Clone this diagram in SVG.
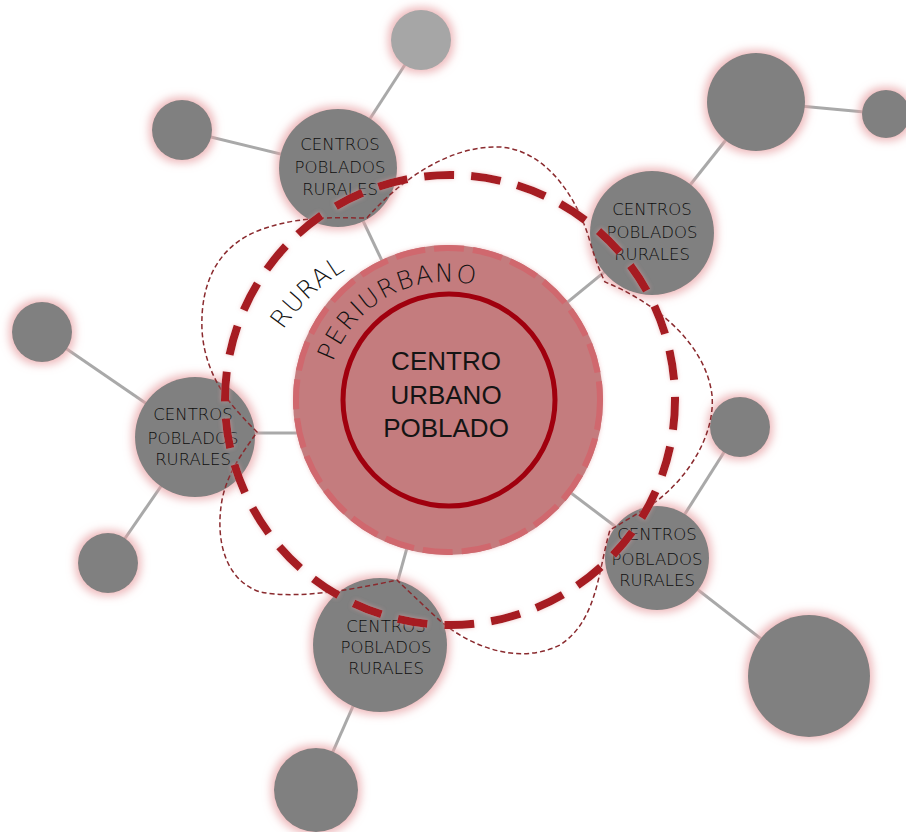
<svg xmlns="http://www.w3.org/2000/svg" width="906" height="832" viewBox="0 0 906 832">
<defs>
<filter id="glow" x="-40%" y="-40%" width="180%" height="180%">
<feMorphology in="SourceAlpha" operator="dilate" radius="3" result="d"/>
<feGaussianBlur in="d" stdDeviation="4" result="b"/>
<feFlood flood-color="#e8a3a6" flood-opacity="0.75"/>
<feComposite in2="b" operator="in" result="g"/>
<feMerge><feMergeNode in="g"/><feMergeNode in="SourceGraphic"/></feMerge>
</filter>
<filter id="soft" x="-10%" y="-10%" width="120%" height="120%">
<feGaussianBlur in="SourceAlpha" stdDeviation="2" result="b"/>
<feFlood flood-color="#e8a3a6" flood-opacity="0.6"/>
<feComposite in2="b" operator="in" result="g"/>
<feMerge><feMergeNode in="g"/><feMergeNode in="SourceGraphic"/></feMerge>
</filter>
</defs>
<style>
.link{stroke:#a9a9a9;stroke-width:3;fill:none}
.node{fill:#808080;filter:url(#glow)}
.lt{fill:#a6a6a6;filter:url(#glow)}
.sat{font-family:"DejaVu Sans","Liberation Sans",sans-serif;font-weight:200;font-size:16.5px;fill:#0d0d0d;text-anchor:middle}
.ctr{font-family:"Liberation Sans",Arial,sans-serif;font-size:26px;fill:#141414;text-anchor:middle}
.arc{font-family:"DejaVu Sans","Liberation Sans",sans-serif;font-weight:200;font-size:25px;fill:#111}
</style>
<rect width="906" height="832" fill="#ffffff"/>
<g id="connectors">
<line class="link" x1="421" y1="40" x2="338" y2="168"/>
<line class="link" x1="182" y1="130" x2="338" y2="168"/>
<line class="link" x1="338" y1="168" x2="448" y2="400"/>
<line class="link" x1="756" y1="102" x2="652" y2="233"/>
<line class="link" x1="756" y1="102" x2="886" y2="114"/>
<line class="link" x1="652" y1="233" x2="448" y2="400"/>
<line class="link" x1="42" y1="332" x2="195" y2="437"/>
<line class="link" x1="195" y1="433" x2="320" y2="433"/>
<line class="link" x1="195" y1="437" x2="108" y2="563"/>
<line class="link" x1="740" y1="427" x2="657" y2="558"/>
<line class="link" x1="657" y1="558" x2="448" y2="400"/>
<line class="link" x1="657" y1="558" x2="809" y2="676"/>
<line class="link" x1="380" y1="645" x2="448" y2="400"/>
<line class="link" x1="380" y1="645" x2="316" y2="790"/>
</g>
<g id="n-top"><circle class="lt" cx="421" cy="40" r="30"/></g>
<g id="n-tl"><circle class="node" cx="182" cy="130" r="30"/></g>
<g id="n-tr-big"><circle class="node" cx="756" cy="102" r="49"/></g>
<g id="n-tr-small"><circle class="node" cx="886" cy="114" r="24"/></g>
<g id="n-left"><circle class="node" cx="42" cy="332" r="30"/></g>
<g id="n-right"><circle class="node" cx="740" cy="427" r="30"/></g>
<g id="n-bl"><circle class="node" cx="108" cy="563" r="30"/></g>
<g id="n-br"><circle class="node" cx="809" cy="676" r="61"/></g>
<g id="n-bottom"><circle class="node" cx="316" cy="790" r="42"/></g>
<g id="center">
<circle cx="448" cy="400" r="155" fill="#c47b7e" filter="url(#soft)"/>
<circle cx="448" cy="400" r="152" fill="none" stroke="#d0686e" stroke-width="6" stroke-dasharray="30 9"/>
<circle cx="449" cy="400" r="106" fill="none" stroke="#a0000e" stroke-width="5"/>
<text class="ctr" x="446" y="370">CENTRO</text>
<text class="ctr" x="446" y="404">URBANO</text>
<text class="ctr" x="446" y="437">POBLADO</text>
</g>
<g id="s1"><circle class="node" cx="338" cy="168" r="59"/>
<text class="sat" x="340" y="150">CENTROS</text><text class="sat" x="340" y="173">POBLADOS</text><text class="sat" x="340" y="195">RURALES</text></g>
<g id="s2"><circle class="node" cx="652" cy="233" r="62"/>
<text class="sat" x="652" y="215">CENTROS</text><text class="sat" x="652" y="238">POBLADOS</text><text class="sat" x="652" y="260">RURALES</text></g>
<g id="s3"><circle class="node" cx="195" cy="437" r="60"/>
<text class="sat" x="193" y="420">CENTROS</text><text class="sat" x="193" y="444">POBLADOS</text><text class="sat" x="193" y="465">RURALES</text></g>
<g id="s4"><circle class="node" cx="657" cy="558" r="52"/>
<text class="sat" x="657" y="540">CENTROS</text><text class="sat" x="657" y="565">POBLADOS</text><text class="sat" x="657" y="586">RURALES</text></g>
<g id="s5"><circle class="node" cx="380" cy="645" r="67"/>
<text class="sat" x="386" y="632">CENTROS</text><text class="sat" x="386" y="653">POBLADOS</text><text class="sat" x="386" y="674">RURALES</text></g>
<g id="labels">
<path id="pPeri" d="M 333,362 A 120 120 0 0 1 495,292" fill="none"/>
<path id="pRural" d="M 283,330 A 200 200 0 0 1 360,262" fill="none"/>
<text class="arc" letter-spacing="1.5"><textPath href="#pPeri">PERIURBANO</textPath></text>
<text class="arc" letter-spacing="1"><textPath href="#pRural">RURAL</textPath></text>
</g>
<g id="zones">
<path d="M 367,218 C 400,180 450,145 500,147 C 545,150 575,195 588,235 C 593,252 598,268 605,282 C 650,300 705,340 712,395 C 716,440 680,490 640,512 L 610,530 C 598,570 598,620 560,645 C 520,665 470,648 437,618 C 420,602 405,588 397,580 C 360,588 300,600 260,592 C 225,580 215,540 222,500 C 228,470 245,450 257,432 C 235,410 205,380 202,330 C 200,280 220,245 260,230 C 300,215 340,218 367,218 Z" fill="none" stroke="#8a2a2e" stroke-width="1.5" stroke-dasharray="5 3"/>
<circle cx="450" cy="400" r="225" fill="none" stroke="#a61a20" stroke-width="8" stroke-dasharray="30 17" filter="url(#soft)"/>
</g>
</svg>
